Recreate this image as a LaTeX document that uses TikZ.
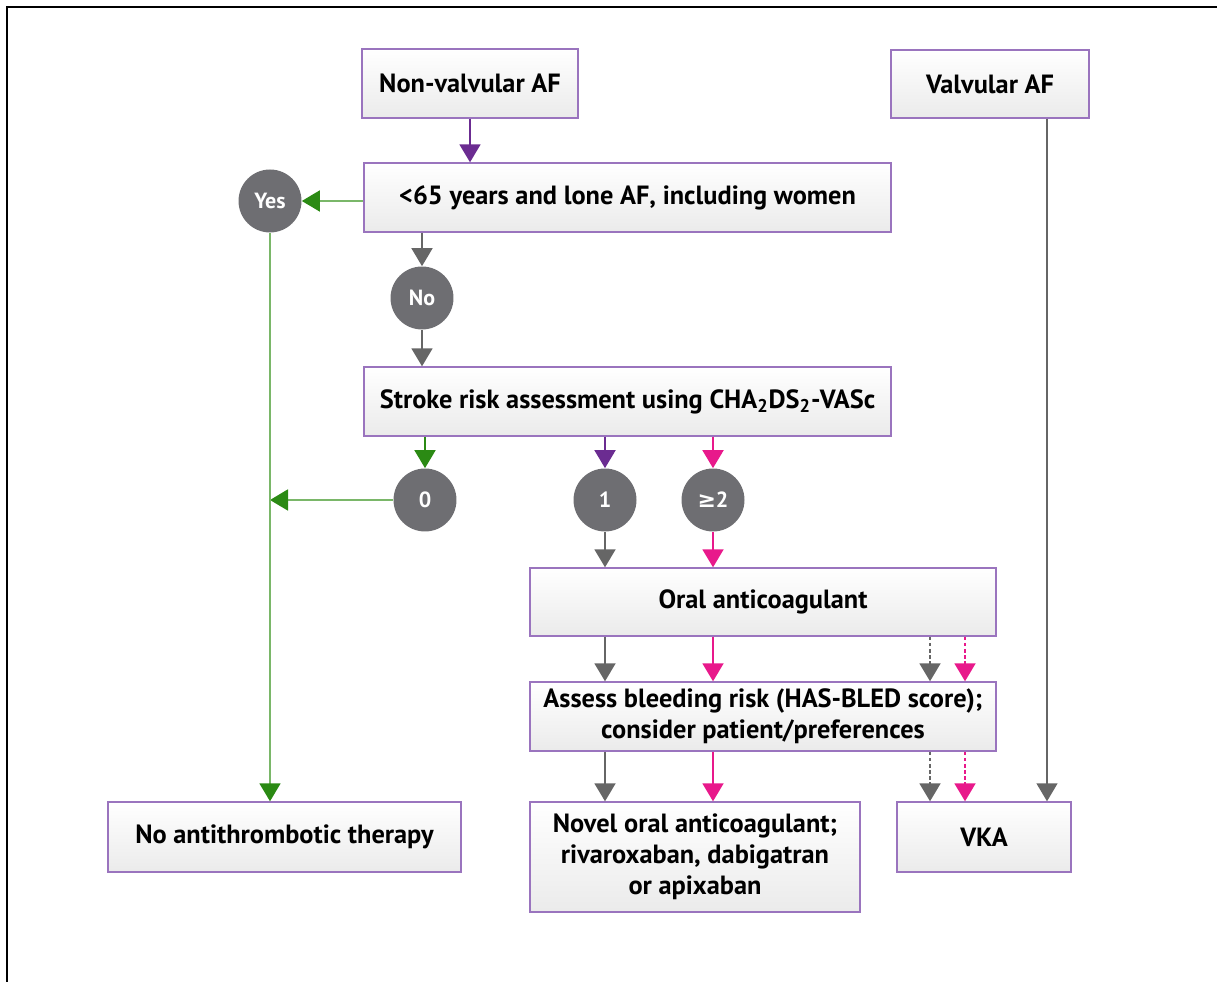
\documentclass[tikz,border=0pt]{standalone}
\usepackage{fontspec}
\setmainfont{PT Sans}
\newfontfamily\symfont{DejaVu Sans}
\usetikzlibrary{arrows.meta}
\definecolor{boxline}{HTML}{9A74BE}
\definecolor{ppl}{HTML}{6B2C91}
\definecolor{gry}{HTML}{666666}
\definecolor{mgt}{HTML}{E8198B}
\definecolor{grn}{HTML}{2B8A14}
\definecolor{grnline}{HTML}{7AB769}
\definecolor{circfill}{HTML}{6E6E72}
\begin{document}
\begin{tikzpicture}[x=0.02cm, y=-0.02cm,
block/.style = {rectangle, draw=boxline, line width=0.8pt, top color=white, bottom color=gray!16, align=center, font=\fontsize{15}{17.5}\selectfont\bfseries, inner sep=2pt},
circ/.style = {circle, fill=circfill, minimum size=1.26cm, inner sep=0pt, text=white, font=\fontsize{12.5}{14}\selectfont\bfseries},
arr/.style = {line width=1.1pt, -{Triangle[width=0.42cm, length=0.36cm]}},
dsh/.style = {arr, dash pattern=on 2pt off 1.5pt}]
\useasboundingbox (0,0) rectangle (1217,982);
\draw [line width=1.4pt] (7,982) -- (7,7) -- (1217,7);
% boxes
\node[block, minimum width=4.32cm, minimum height=1.38cm] at (470,83.5) (nv) {Non-valvular AF};
\node[block, minimum width=3.96cm, minimum height=1.36cm] at (990,84) (va) {Valvular AF};
\node[block, minimum width=10.54cm, minimum height=1.38cm] at (627.5,197.5) (age) {<65 years and lone AF, including women};
\node[block, minimum width=10.54cm, minimum height=1.38cm] at (627.5,401.5) (risk) {Stroke risk assessment using CHA\textsubscript{2}DS\textsubscript{2}-VASc};
\node[block, minimum width=9.32cm, minimum height=1.36cm] at (763,602) (oac) {Oral anticoagulant};
\node[block, minimum width=9.32cm, minimum height=1.38cm] at (763,716.5) (bleed) {Assess bleeding risk (HAS-BLED score);\\consider patient/preferences};
\node[block, minimum width=7.06cm, minimum height=1.40cm] at (284.5,837) (noat) {No antithrombotic therapy};
\node[block, minimum width=6.6cm, minimum height=2.2cm] at (695,857) (noac) {Novel oral anticoagulant;\\rivaroxaban, dabigatran\\or apixaban};
\node[block, minimum width=3.48cm, minimum height=1.40cm] at (984,837) (vka) {VKA};
% circles
\node[circ] at (270,201) (yes) {Yes};
\node[circ] at (422,298) (no) {No};
\node[circ] at (425,500) (s0) {0};
\node[circ] at (605,500) (s1) {1};
\node[circ] at (713,500) (s2) {{\symfont ≥}2};
\coordinate (dg) at (930,0);
\coordinate (dm) at (965,0);
\coordinate (vv) at (1047,0);
% arrows
\draw [arr, ppl] (nv) -- (age.north -| nv);
\draw [arr, grnline, -{Triangle[width=0.42cm, length=0.36cm, color=grn]}] (age.west |- yes) -- (yes);
\draw [arr, gry] (age.south -| no) -- (no);
\draw [arr, gry] (no) -- (risk.north -| no);
\draw [arr, grn] (risk.south -| s0) -- (s0);
\draw [arr, ppl] (risk.south -| s1) -- (s1);
\draw [arr, mgt] (risk.south -| s2) -- (s2);
\draw [arr, grnline, -{Triangle[width=0.42cm, length=0.36cm, color=grn]}] (s0) -- (s0 -| yes);
\draw [arr, grnline, -{Triangle[width=0.42cm, length=0.36cm, color=grn]}] (yes) -- (noat.north -| yes);
\draw [arr, gry] (s1) -- (oac.north -| s1);
\draw [arr, mgt] (s2) -- (oac.north -| s2);
\draw [arr, gry] (oac.south -| s1) -- (bleed.north -| s1);
\draw [arr, mgt] (oac.south -| s2) -- (bleed.north -| s2);
\draw [dsh, gry] (oac.south -| dg) -- (bleed.north -| dg);
\draw [dsh, mgt] (oac.south -| dm) -- (bleed.north -| dm);
\draw [arr, gry] (bleed.south -| s1) -- (noac.north -| s1);
\draw [arr, mgt] (bleed.south -| s2) -- (noac.north -| s2);
\draw [dsh, gry] (bleed.south -| dg) -- (vka.north -| dg);
\draw [dsh, mgt] (bleed.south -| dm) -- (vka.north -| dm);
\draw [arr, gry, line width=0.8pt] (va.south -| vv) -- (vka.north -| vv);
\end{tikzpicture}
\end{document}
